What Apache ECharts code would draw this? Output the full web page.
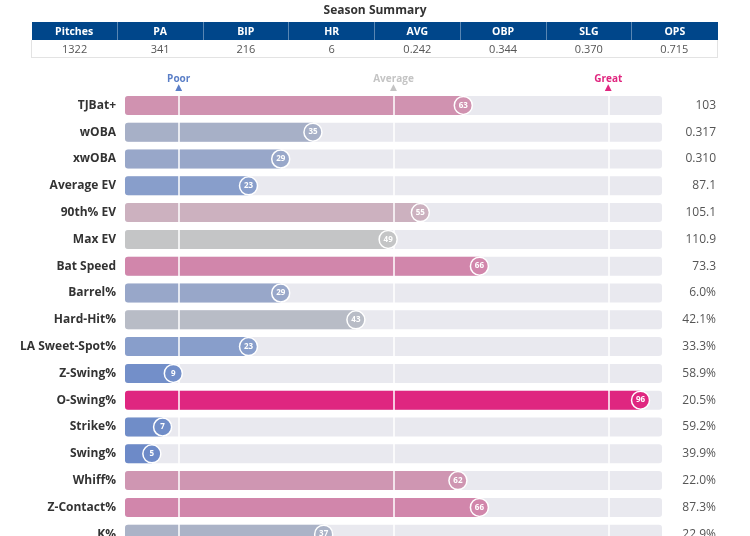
<!DOCTYPE html>
<html>
<head>
<meta charset="utf-8">
<title>Season Summary</title>
<script src="https://cdn.jsdelivr.net/npm/echarts@6/dist/echarts.min.js"></script>
<style>
	html, body { margin:0; padding:0; background:#fff; }
	#wrap { position:relative; width:750px; height:536px; overflow:hidden; font-family:"Open Sans", "Noto Sans", sans-serif; }
	#title { position:absolute; left:0; top:1px; width:750px; text-align:center; font-size:12px; font-weight:bold; color:#333; }
	#summary { position:absolute; left:31px; top:22px; width:687px; border-collapse:collapse; table-layout:fixed; z-index:2; }
	#summary th { background:#00468a; color:#fff; font-size:10.5px; font-weight:bold; height:18px; padding:0; border-right:1px solid rgba(255,255,255,0.35); }
	#summary th:last-child { border-right:none; }
	#summary td { color:#555; font-size:11px; height:17px; padding:0; text-align:center; border:1px solid #e3e3e3; border-top:none; border-left:none; border-right:none; }
	#summary tr:last-child td:first-child { border-left:1px solid #e3e3e3; }
	#summary tr:last-child td:last-child { border-right:1px solid #e3e3e3; }
	#chart { position:absolute; left:0; top:0; width:750px; height:536px; }
</style>
</head>
<body>
<div id="wrap">
	<div id="chart"></div>
	<div id="title">Season Summary</div>
	<table id="summary"><thead><tr id="sumHead"></tr></thead><tbody><tr id="sumBody"></tr></tbody></table>
</div>
<script>
// season summary table
var summaryHeaders = ['Pitches', 'PA', 'BIP', 'HR', 'AVG', 'OBP', 'SLG', 'OPS'];
var summaryValues = ['1322', '341', '216', '6', '0.242', '0.344', '0.370', '0.715'];

// percentile rows
var metrics = ['TJBat+', 'wOBA', 'xwOBA', 'Average EV', '90th% EV', 'Max EV', 'Bat Speed', 'Barrel%',
	'Hard-Hit%', 'LA Sweet-Spot%', 'Z-Swing%', 'O-Swing%', 'Strike%', 'Swing%', 'Whiff%', 'Z-Contact%', 'K%'];
var percentiles = [63, 35, 29, 23, 55, 49, 66, 29, 43, 23, 9, 96, 7, 5, 62, 66, 37];
var statValues = ['103', '0.317', '0.310', '87.1', '105.1', '110.9', '73.3', '6.0%', '42.1%', '33.3%',
	'58.9%', '20.5%', '59.2%', '39.9%', '22.0%', '87.3%', '22.9%'];

// reference marks
var refValues = [10, 50, 90];
var refNames = ['Poor', 'Average', 'Great'];

var headRow = document.getElementById('sumHead');
var bodyRow = document.getElementById('sumBody');
for (var i = 0; i < summaryHeaders.length; i++) {
	var th = document.createElement('th'); th.textContent = summaryHeaders[i]; headRow.appendChild(th);
	var td = document.createElement('td'); td.textContent = summaryValues[i]; bodyRow.appendChild(td);
}

// blue -> grey -> pink colour ramp
var stops = [[0, [101,133,199]], [23, [136,158,203]], [35, [167,176,199]], [50, [198,198,198]],
	[55, [204,177,191]], [66, [209,134,171]], [100, [225,25,122]]];
function colorFor(v) {
	for (var k = 1; k < stops.length; k++) {
		if (v <= stops[k][0]) {
			var a = stops[k-1], b = stops[k], t = (v - a[0]) / (b[0] - a[0]);
			var c = a[1].map(function(x, j){ return Math.round(x + (b[1][j] - x) * t); });
			return 'rgb(' + c.join(',') + ')';
		}
	}
	return 'rgb(225,25,122)';
}

var bandH = 26.8;
var chart = echarts.init(document.getElementById('chart'));
chart.setOption({
	animation: false,
	grid: { left: 125, width: 537, top: 92, height: bandH * metrics.length, outerBoundsMode: 'none', containLabel: false },
	xAxis: [
		{ type: 'value', min: 0, max: 100, show: false },
		{ type: 'value', min: 0, max: 100, position: 'top',
			axisLine: { show: false }, axisTick: { show: false }, splitLine: { show: false },
			axisLabel: {
				customValues: refValues, margin: 0,
				formatter: function(v){
					var n = refValues.indexOf(v), key = ['p', 'a', 'g'][n];
					return '{' + key + '|' + refNames[n] + '}\n{' + key + 't|▲}';
				},
				rich: {
					p: { color: '#5b7fc7', fontWeight: 'bold', fontSize: 10, fontFamily: 'Open Sans', lineHeight: 7 },
					a: { color: '#c4c4c4', fontWeight: 'bold', fontSize: 10, fontFamily: 'Open Sans', lineHeight: 7 },
					g: { color: '#e0267f', fontWeight: 'bold', fontSize: 10, fontFamily: 'Open Sans', lineHeight: 7 },
					pt: { color: '#5b7fc7', fontSize: 9, fontFamily: 'DejaVu Sans', lineHeight: 9 },
					at: { color: '#c4c4c4', fontSize: 9, fontFamily: 'DejaVu Sans', lineHeight: 9 },
					gt: { color: '#e0267f', fontSize: 9, fontFamily: 'DejaVu Sans', lineHeight: 9 }
				}
			}
		}
	],
	yAxis: [
		{ type: 'category', data: metrics, inverse: true,
			axisLine: { show: false }, axisTick: { show: false },
			axisLabel: { margin: 9, fontSize: 12, fontWeight: 'bold', color: '#333', fontFamily: 'Open Sans' } },
		{ type: 'category', data: statValues, inverse: true, position: 'right',
			axisLine: { show: false }, axisTick: { show: false },
			axisLabel: { margin: 54, align: 'right', fontSize: 12, color: '#555', fontFamily: 'Open Sans' } }
	],
	series: [
		{ type: 'bar', name: 'track', barWidth: 19, silent: true,
			data: metrics.map(function(){ return 100; }),
			itemStyle: { color: '#e9e9ef', borderRadius: 3 } },
		{ type: 'bar', name: 'percentile', barWidth: 19, barGap: '-100%', silent: true,
			data: percentiles,
			itemStyle: { borderRadius: [3, 0, 0, 3], color: function(p){ return colorFor(p.value); } },
			markLine: { silent: true, symbol: 'none', label: { show: false },
				lineStyle: { color: '#fff', width: 1.5, type: 'solid' },
				data: refValues.map(function(v){ return { xAxis: v }; }) } },
		{ type: 'scatter', name: 'dot', symbolSize: 18, z: 5, silent: true,
			data: percentiles.map(function(v, i){ return [v, metrics[i]]; }),
			itemStyle: { color: function(p){ return colorFor(p.value[0]); }, borderColor: '#fff', borderWidth: 1.5, opacity: 1 },
			label: { show: true, position: 'inside', fontSize: 8, fontWeight: 'bold', color: '#fff', fontFamily: 'Open Sans',
				formatter: function(p){ return p.value[0]; } } }
	]
});
</script>
</body>
</html>
